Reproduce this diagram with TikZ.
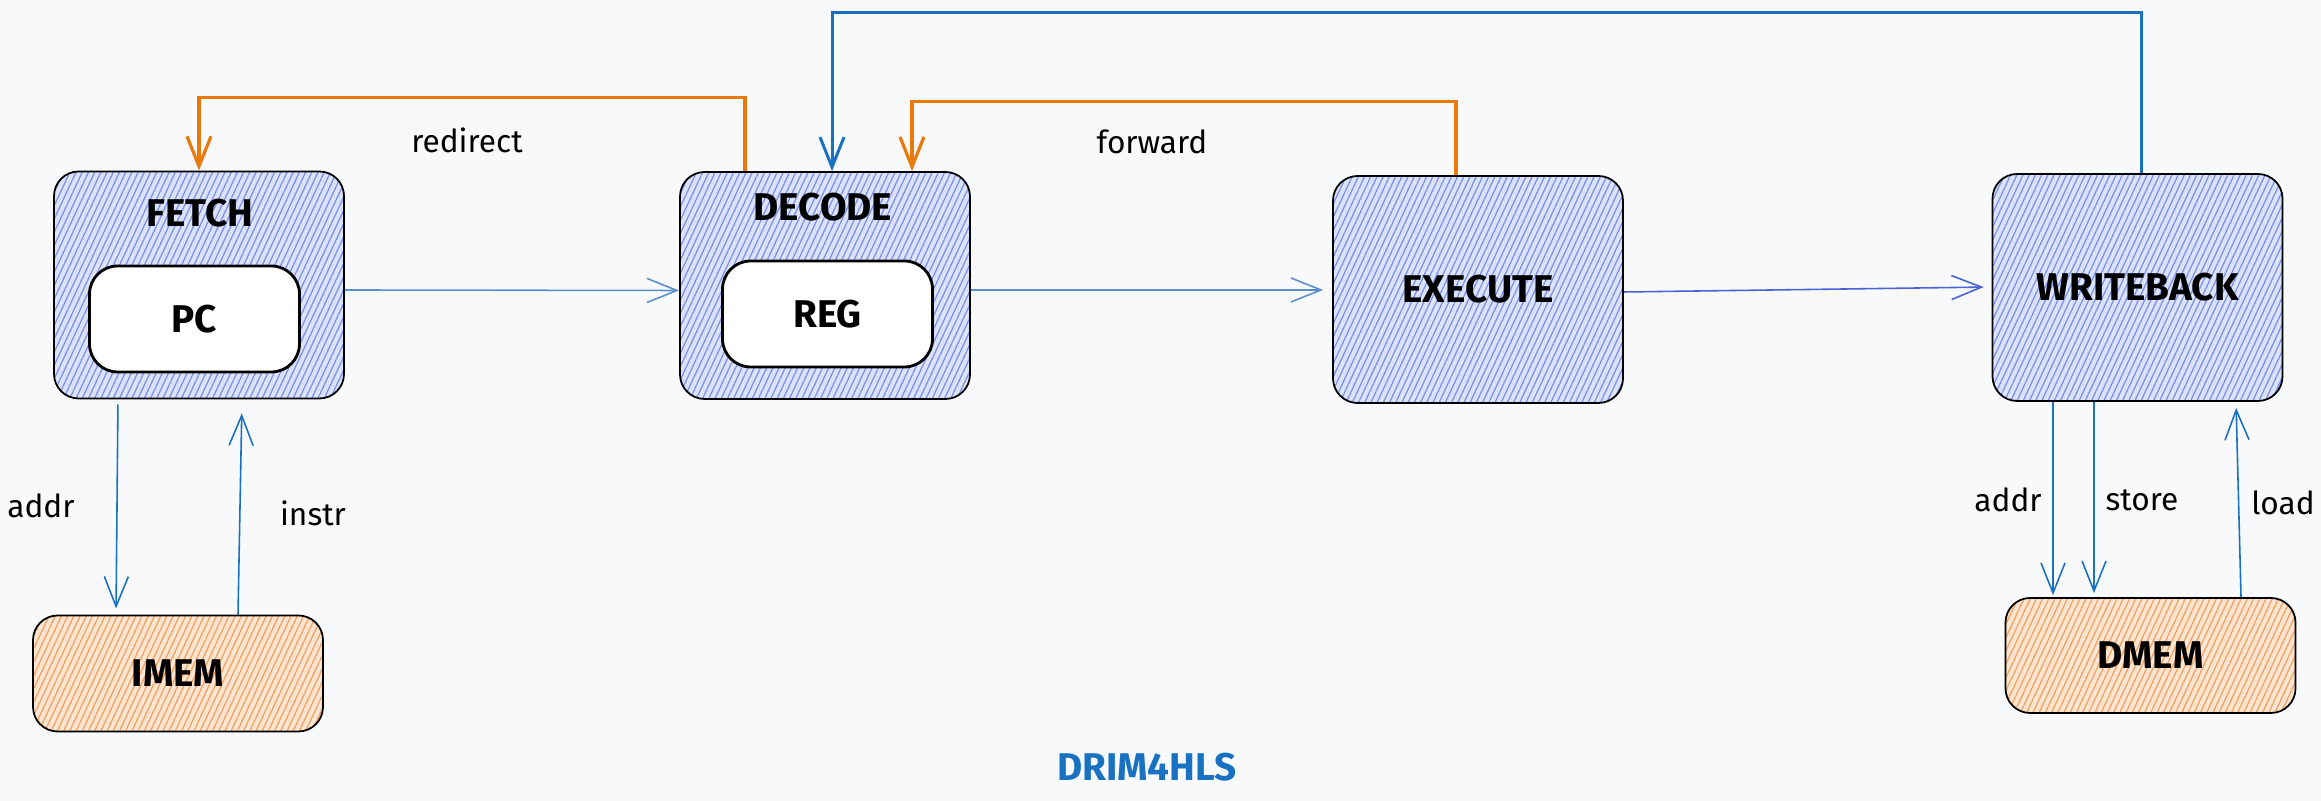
\documentclass[tikz,border=0pt]{standalone}
\usepackage{fontspec}
\setmainfont{Fira Sans}
\usetikzlibrary{arrows.meta,patterns.meta}
\definecolor{bg}{HTML}{F8F9FA}
\definecolor{stg}{HTML}{DCE2FA}
\definecolor{stghatch}{HTML}{7890EC}
\definecolor{mem}{HTML}{FCE5D2}
\definecolor{memhatch}{HTML}{F4A05A}
\definecolor{wire}{HTML}{1971C2}
\definecolor{wirelt}{HTML}{5A8ECF}
\definecolor{wirepu}{HTML}{4A62D8}
\definecolor{fb}{HTML}{E8790A}

\begin{document}
\begin{tikzpicture}[
    stage/.style={draw=black, line width=0.5pt, rounded corners=7pt,
      preaction={fill=stg},
      preaction={pattern color=stghatch, pattern={Lines[angle=65,distance=1.6pt,line width=0.35pt]}},
      minimum width=2.90cm, minimum height=2.27cm, inner sep=0pt, font=\bfseries\fontsize{11}{13}\selectfont},
    memory/.style={draw=black, line width=0.5pt, rounded corners=7pt,
      preaction={fill=mem},
      preaction={pattern color=memhatch, pattern={Lines[angle=65,distance=1.6pt,line width=0.35pt]}},
      minimum width=2.90cm, minimum height=1.16cm, inner sep=0pt, font=\bfseries\fontsize{11}{13}\selectfont},
    unit/.style={draw=black, line width=0.8pt, fill=white, rounded corners=8pt,
      minimum width=2.10cm, minimum height=1.06cm, font=\bfseries\fontsize{11}{13}\selectfont},
    title/.style={font=\bfseries\fontsize{11}{13}\selectfont},
    lbl/.style={font=\fontsize{9}{11}\selectfont},
    flow/.style={draw=wire, line width=0.45pt, -{Straight Barb[length=3mm,width=2.4mm]}},
    fbline/.style={draw=fb, line width=0.9pt, -{Straight Barb[length=3mm,width=2.4mm]}},
    wbline/.style={draw=wire, line width=0.85pt, -{Straight Barb[length=3mm,width=2.4mm]}}
  ]
  \fill[bg] (0,0) rectangle (23.21,-8.01);
  \useasboundingbox (0,0) rectangle (23.21,-8.01);

  % pipeline stages
  \node[stage] (fetch) at (1.99,-2.85) {};
  \node[stage] (decode) at (8.25,-2.855) {};
  \node[stage] (execute) at (14.78,-2.895) {EXECUTE};
  \node[stage] (wb) at (21.375,-2.875) {WRITEBACK};
  \node[title] (fetcht) at (2.00,-2.13) {FETCH};
  \node[title] (decodet) at (8.23,-2.07) {DECODE};
  \node[unit] (pc) at (1.945,-3.19) {PC};
  \node[unit] (reg) at (8.275,-3.14) {REG};

  % memories
  \node[memory] (imem) at (1.78,-6.735) {IMEM};
  \node[memory, minimum height=1.15cm] (dmem) at (21.505,-6.555) {DMEM};

  % forward path
  \draw[flow, draw=wirelt] ([yshift=-0.05cm]fetch.east) -- ([yshift=-0.05cm]decode.west);
  \draw[flow, draw=wirelt, shorten >=0.09cm] ([yshift=-0.045cm]decode.east) -- ([yshift=-0.005cm]execute.west);
  \draw[flow, draw=wirepu, shorten >=0.08cm] ([yshift=-0.025cm]execute.east) -- ([yshift=0.005cm]wb.west);

  % feedback
  \draw[fbline] ([xshift=-0.80cm]decode.north) |- ([yshift=0.73cm]fetch.north) -- (fetch.north);
  \draw[fbline] ([xshift=-0.22cm]execute.north) |- ([xshift=0.87cm,yshift=0.70cm]decode.north) -- ([xshift=0.87cm]decode.north);
  \draw[wbline] ([xshift=0.035cm]wb.north) |- ([xshift=0.07cm,yshift=1.59cm]decode.north) -- ([xshift=0.07cm]decode.north);
  \node[lbl] (lred) at (4.67,-1.40) {redirect};
  \node[lbl] (lfwd) at (11.52,-1.42) {forward};

  % memory ports
  \draw[flow, shorten <=0.05cm, shorten >=0.06cm] ([xshift=-0.81cm]fetch.south) -- ([xshift=-0.62cm]imem.north);
  \draw[flow, shorten >=0.14cm] ([xshift=0.60cm]imem.north) -- ([xshift=0.43cm]fetch.south);
  \draw[flow, shorten >=0.02cm] ([xshift=-0.845cm]wb.south) -- ([xshift=-0.975cm]dmem.north);
  \draw[flow, shorten >=0.04cm] ([xshift=-0.435cm]wb.south) -- ([xshift=-0.565cm]dmem.north);
  \draw[flow, shorten >=0.06cm] ([xshift=0.905cm]dmem.north) -- ([xshift=0.985cm]wb.south);
  \node[lbl] (liaddr) at (0.41,-5.06) {addr};
  \node[lbl] (linstr) at (3.13,-5.13) {instr};
  \node[lbl] (ldaddr) at (20.08,-5.00) {addr};
  \node[lbl] (lstore) at (21.42,-5.00) {store};
  \node[lbl] (lload) at (22.83,-5.03) {load};

  \node[title, text=wire] (name) at (11.47,-7.67) {DRIM4HLS};
\end{tikzpicture}
\end{document}
